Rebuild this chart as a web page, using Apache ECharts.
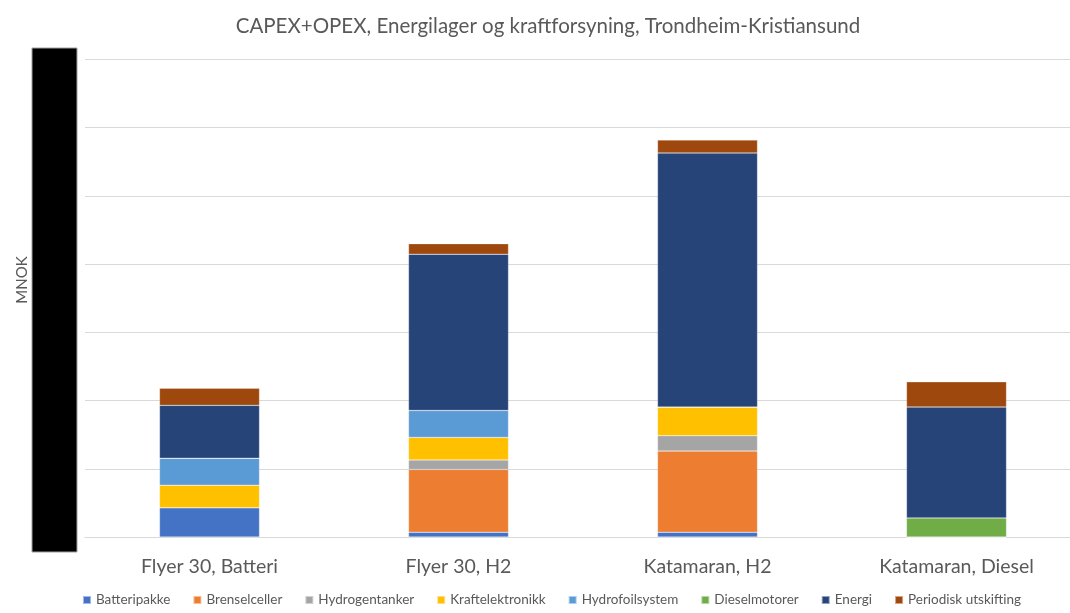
<!DOCTYPE html>
<html>
<head>
<meta charset="utf-8">
<script src="https://cdn.jsdelivr.net/npm/echarts@6/dist/echarts.min.js"></script>
<style>
  html, body { margin: 0; padding: 0; background: #fff; }
  #chart { width: 1070px; height: 613px; }
</style>
</head>
<body>
<div id="chart"></div>
<script>
// kategorier og verdier (lest av bildet, aksen er sladdet)
const categories = ['Flyer 30, Batteri', 'Flyer 30, H2', 'Katamaran, H2', 'Katamaran, Diesel']
const batteripakke = [4.3, 0.7, 0.7, 0]
const brenselceller = [0, 9.2, 11.9, 0]
const hydrogentanker = [0, 1.4, 2.25, 0]
const kraftelektronikk = [3.3, 3.3, 4.2, 0]
const hydrofoilsystem = [3.95, 3.95, 0, 0]
const dieselmotorer = [0, 0, 0, 2.8]
const energi = [7.75, 22.9, 37.25, 16.25]
const periodisk = [2.5, 1.55, 1.9, 3.7]

const seriesDefs = [
  { name: 'Batteripakke', data: batteripakke, color: '#4472C4' },
  { name: 'Brenselceller', data: brenselceller, color: '#ED7D31' },
  { name: 'Hydrogentanker', data: hydrogentanker, color: '#A5A5A5' },
  { name: 'Kraftelektronikk', data: kraftelektronikk, color: '#FFC000' },
  { name: 'Hydrofoilsystem', data: hydrofoilsystem, color: '#5B9BD5' },
  { name: 'Dieselmotorer', data: dieselmotorer, color: '#70AD47' },
  { name: 'Energi', data: energi, color: '#264478' },
  { name: 'Periodisk utskifting', data: periodisk, color: '#9E480E' }
]

const font = 'Lato, "Open Sans", sans-serif'
const chart = echarts.init(document.getElementById('chart'))

chart.setOption({
  animation: false,
  title: {
    text: 'CAPEX+OPEX, Energilager og kraftforsyning, Trondheim-Kristiansund',
    left: 543,
    textAlign: 'center',
    top: 11,
    textStyle: { color: '#595959', fontSize: 20.5, fontWeight: 'normal', fontFamily: font }
  },
  legend: {
    bottom: 1,
    left: 77,
    icon: 'rect',
    itemWidth: 8,
    itemHeight: 8,
    itemGap: 22,
    textStyle: { color: '#595959', fontSize: 13.5, fontFamily: font },
    data: seriesDefs.map(s => s.name)
  },
  grid: { left: 85, top: 59.5, width: 996, height: 477.5, outerBoundsMode: 'none' },
  xAxis: {
    type: 'category',
    data: categories,
    axisLine: { lineStyle: { color: '#d9d9d9' } },
    axisTick: { show: false },
    axisLabel: { color: '#595959', fontSize: 19.5, fontFamily: font, margin: 20 }
  },
  yAxis: {
    type: 'value',
    min: 0,
    max: 70,
    interval: 10,
    axisLabel: { show: false },
    axisLine: { show: false },
    axisTick: { show: false },
    splitLine: { lineStyle: { color: '#d9d9d9' } }
  },
  graphic: [
    {
      type: 'rect',
      shape: { x: 32, y: 48, width: 45, height: 504 },
      style: { fill: '#000', stroke: '#a0a0a0', lineWidth: 1 }
    },
    {
      type: 'text',
      x: 22,
      y: 280,
      rotation: Math.PI / 2,
      style: {
        text: 'MNOK',
        fill: '#595959',
        font: '15px ' + font,
        textAlign: 'center',
        textVerticalAlign: 'middle'
      }
    }
  ],
  series: seriesDefs.map(s => ({
    name: s.name,
    type: 'bar',
    stack: 'total',
    barWidth: 100,
    data: s.data,
    itemStyle: { color: s.color, borderColor: 'rgba(255,255,255,0.5)', borderWidth: 0.5 }
  }))
})
</script>
</body>
</html>
